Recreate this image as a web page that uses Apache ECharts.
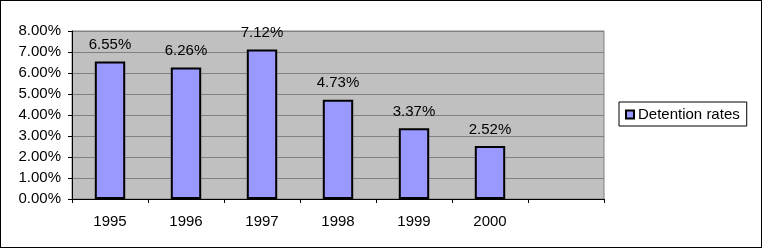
<!DOCTYPE html>
<html>
<head>
<meta charset="utf-8">
<script src="https://cdn.jsdelivr.net/npm/echarts@6/dist/echarts.min.js"></script>
<style>
    html, body { margin: 0; padding: 0; background: #fff; }
    #chart { width: 760px; height: 246px; border: 1px solid #000; }
</style>
</head>
<body>
<div id="chart"></div>
<script>
// years on the x axis (last slot is empty, as in the original)
const years = ['1995', '1996', '1997', '1998', '1999', '2000', ''];
// detention rates in percent
const detentionRates = [6.55, 6.26, 7.12, 4.73, 3.37, 2.52, null];

const chart = echarts.init(document.getElementById('chart'));
chart.setOption({
    animation: false,
    textStyle: { fontFamily: 'Liberation Sans, Arial, sans-serif' },
    grid: {
        left: 71,
        right: 157,
        top: 30,
        bottom: 48,
        show: true,
        backgroundColor: '#C0C0C0',
        borderColor: '#808080',
        borderWidth: 1
    },
    legend: {
        left: 618,
        top: 101,
        orient: 'vertical',
        data: ['Detention rates'],
        icon: 'rect',
        itemWidth: 8,
        itemHeight: 8,
        itemGap: 0,
        padding: [5, 7, 4, 6],
        borderColor: '#000',
        borderWidth: 1,
        textStyle: { fontSize: 15, color: '#000', padding: [0, 0, 0, -1] }
    },
    xAxis: {
        type: 'category',
        data: years,
        axisLine: { lineStyle: { color: '#000' } },
        axisTick: { show: true, length: 4, lineStyle: { color: '#000' } },
        axisLabel: { color: '#000', fontSize: 15, margin: 15 }
    },
    yAxis: {
        type: 'value',
        min: 0,
        max: 8,
        interval: 1,
        axisLine: { show: true, lineStyle: { color: '#000' } },
        axisTick: { show: true, length: 4, lineStyle: { color: '#000' } },
        axisLabel: {
            color: '#000',
            fontSize: 15,
            margin: 11,
            formatter: v => v.toFixed(2) + '%'
        },
        splitLine: { lineStyle: { color: '#808080' } }
    },
    series: [
        {
            name: 'Detention rates',
            type: 'bar',
            data: detentionRates,
            barWidth: '40%',
            itemStyle: { color: '#9999FF', borderColor: '#000', borderWidth: 2 },
            label: {
                show: true,
                position: 'top',
                distance: 9,
                color: '#000',
                fontSize: 15,
                formatter: p => p.value.toFixed(2) + '%'
            }
        }
    ]
});
</script>
</body>
</html>
